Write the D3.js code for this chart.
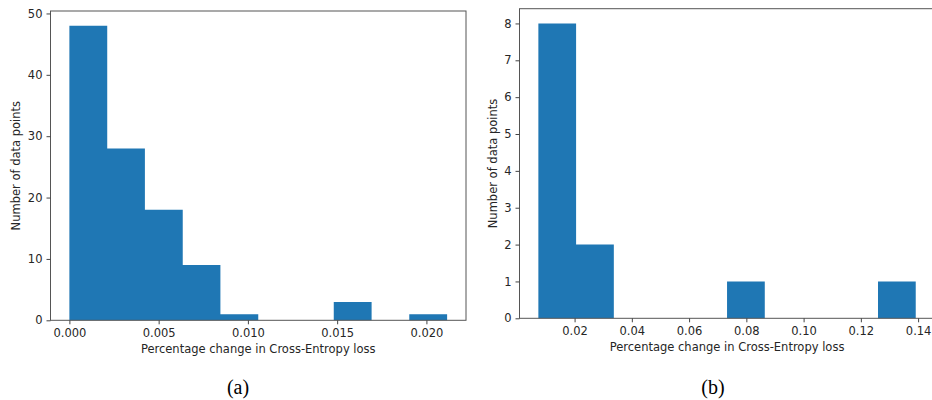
<!DOCTYPE html>
<html>
<head>
<meta charset="utf-8">
<script src="https://cdn.jsdelivr.net/npm/d3@7"></script>
<style>
  html, body { margin: 0; padding: 0; background: #fff; }
  svg { display: block; }
  .tick text { font-family: "DejaVu Sans", sans-serif; font-size: 11.5px; fill: #262626; }
</style>
</head>
<body>
<svg id="chart" width="932" height="400"></svg>
<script>
// ---- Data ----
const countsA = [48, 28, 18, 9, 1, 0, 0, 3, 0, 1];
const edgesA = [0.0, 0.00212, 0.00423, 0.00635, 0.00846, 0.01058, 0.0127, 0.01481, 0.01693, 0.01904, 0.02116];
const xTicksA = [0.000, 0.005, 0.010, 0.015, 0.020];
const yTicksA = [0, 10, 20, 30, 40, 50];

const countsB = [8, 2, 0, 0, 0, 1, 0, 0, 0, 1];
const edgesB = [0.00735, 0.02053, 0.03371, 0.0469, 0.06008, 0.07326, 0.08644, 0.09962, 0.1128, 0.12599, 0.13917];
const xTicksB = [0.02, 0.04, 0.06, 0.08, 0.10, 0.12, 0.14];
const yTicksB = [0, 1, 2, 3, 4, 5, 6, 7, 8];

const xLabel = "Percentage change in Cross-Entropy loss";
const yLabel = "Number of data points";
const captions = ["(a)", "(b)"];

const svg = d3.select("#chart");

function panel(cfg) {
  const { left, right, top, bottom, counts, edges, xTicks, yTicks, xFmt, caption, capX } = cfg;
  const lo = edges[0], hi = edges[edges.length - 1];
  const m = (hi - lo) * 0.05;
  const x = d3.scaleLinear().domain([lo - m, hi + m]).range([left, right]);
  const ymax = d3.max(counts) * 1.05;
  const y = d3.scaleLinear().domain([0, ymax]).range([bottom, top]);

  const g = svg.append("g");
  // histogram drawn as one stepped shape (no seams between adjacent bins)
  const pts = edges.map((e, i) => ({ e, c: i < counts.length ? counts[i] : counts[counts.length - 1] }));
  const area = d3.area()
    .x(d => x(d.e))
    .y0(y(0))
    .y1(d => y(d.c))
    .curve(d3.curveStepAfter);
  g.append("path")
    .datum(pts)
    .attr("d", area)
    .attr("fill", "#1f77b4");

  // frame
  g.append("rect")
    .attr("x", left).attr("y", top)
    .attr("width", right - left).attr("height", bottom - top)
    .attr("fill", "none").attr("stroke", "#555").attr("stroke-width", 1);

  const xa = g.append("g").attr("transform", `translate(0,${bottom})`)
    .call(d3.axisBottom(x).tickValues(xTicks).tickFormat(d3.format(xFmt)).tickSize(4).tickSizeOuter(0).tickPadding(5));
  xa.select(".domain").remove();
  xa.selectAll(".tick line").attr("stroke", "#444");

  const ya = g.append("g").attr("transform", `translate(${left},0)`)
    .call(d3.axisLeft(y).tickValues(yTicks).tickSize(4).tickSizeOuter(0).tickPadding(4));
  ya.select(".domain").remove();
  ya.selectAll(".tick line").attr("stroke", "#444");

  g.append("text")
    .attr("x", (left + right) / 2).attr("y", bottom + 33)
    .attr("text-anchor", "middle")
    .attr("font-family", "DejaVu Sans, sans-serif").attr("font-size", 11.5).attr("fill", "#262626")
    .text(xLabel);

  g.append("text")
    .attr("transform", `translate(${cfg.yLabX},${(top + bottom) / 2}) rotate(-90)`)
    .attr("text-anchor", "middle")
    .attr("dy", "0.35em")
    .attr("font-family", "DejaVu Sans, sans-serif").attr("font-size", 11.5).attr("fill", "#262626")
    .text(yLabel);

  g.append("text")
    .attr("x", capX).attr("y", 394)
    .attr("text-anchor", "middle")
    .attr("font-family", "Liberation Serif, Times New Roman, serif").attr("font-size", 20).attr("fill", "#000")
    .text(caption);
}

panel({ left: 50.5, right: 466, top: 11, bottom: 320.3, counts: countsA, edges: edgesA,
        xTicks: xTicksA, yTicks: yTicksA, xFmt: ".3f", caption: captions[0], capX: 238, yLabX: 16 });
panel({ left: 519.5, right: 934.6, top: 8.7, bottom: 318.3, counts: countsB, edges: edgesB,
        xTicks: xTicksB, yTicks: yTicksB, xFmt: ".2f", caption: captions[1], capX: 713, yLabX: 493 });
</script>
</body>
</html>
